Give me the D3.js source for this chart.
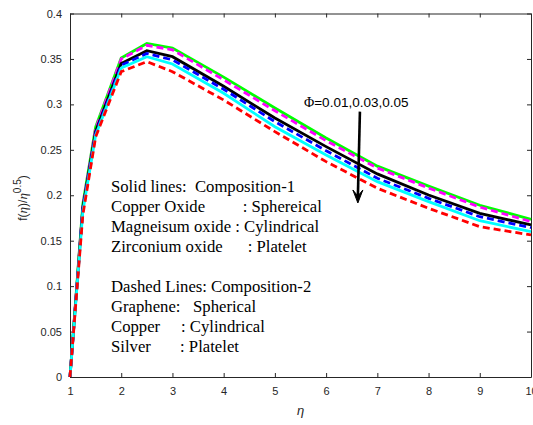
<html>
<head>
<style>
  body { margin: 0; background: #fff; }
  text { font-family: Arial, 'Liberation Sans', sans-serif; }
  .legend text { font-family: 'Times New Roman', 'Liberation Serif', serif; font-size: 16.7px; white-space: pre; }
  .axis text { font-size: 11px; fill: #262626; }
  .axis path, .axis line { stroke: #262626; }
</style>
</head>
<body>
<script src="https://cdn.jsdelivr.net/npm/d3@7"></script>
<script>

var width = 533;
var height = 425;
var margin = {top: 13.5, right: 2, bottom: 48, left: 70};

// eta values and the six curves
var eta = [1, 1.25, 1.5, 2, 2.5, 3, 4, 5, 6, 7, 8, 9, 10];
var green   = [0, 0.190, 0.275, 0.351, 0.367, 0.362, 0.330, 0.296, 0.263, 0.232, 0.210, 0.189, 0.1735];
var magenta = [0, 0.188, 0.273, 0.350, 0.365, 0.360, 0.327, 0.293, 0.260, 0.230, 0.208, 0.187, 0.171];
var black   = [0, 0.186, 0.270, 0.345, 0.359, 0.3525, 0.320, 0.285, 0.2535, 0.2235, 0.2003, 0.180, 0.1673];
var blue    = [0, 0.184, 0.268, 0.343, 0.356, 0.349, 0.3166, 0.281, 0.249, 0.2187, 0.1966, 0.1764, 0.1643];
var cyan    = [0, 0.182, 0.266, 0.340, 0.3525, 0.3444, 0.3122, 0.2754, 0.2443, 0.215, 0.193, 0.172, 0.160];
var red     = [0, 0.178, 0.264, 0.336, 0.347, 0.336, 0.3048, 0.270, 0.237, 0.2077, 0.1857, 0.1654, 0.1563];

var xTicks = [1, 2, 3, 4, 5, 6, 7, 8, 9, 10];
var yTicks = [0, 0.05, 0.1, 0.15, 0.2, 0.25, 0.3, 0.35, 0.4];

var legendLines = [
  'Solid lines:  Composition-1',
  'Copper Oxide         : Sphereical',
  'Magneisum oxide : Cylindrical',
  'Zirconium oxide      : Platelet',
  '',
  'Dashed Lines: Composition-2',
  'Graphene:   Spherical',
  'Copper     : Cylindrical',
  'Silver       : Platelet'
];

// arrow start / end in data units
var arrowFrom = [6.66, 0.292];
var arrowTo = [6.62, 0.1915];
var arrowLabel = '=0.01,0.03,0.05';

var series = [
  {values: green, color: '#00ff00', dash: null},
  {values: magenta, color: '#ff00ff', dash: '7,4'},
  {values: black, color: '#000000', dash: null},
  {values: blue, color: '#0000ff', dash: '7,4'},
  {values: cyan, color: '#00ffff', dash: null},
  {values: red, color: '#ff0000', dash: '7,4'}
];

var svg = d3.select('body').append('svg')
  .attr('width', width)
  .attr('height', height);

svg.append('rect').attr('width', width).attr('height', height).attr('fill', '#fff');

var w = 461, h = 363.5;
var x = d3.scaleLinear().domain([1, 10]).range([margin.left, margin.left + w]);
var y = d3.scaleLinear().domain([0, 0.4]).range([margin.top + h, margin.top]);

var g = svg.append('g');

// box with inward ticks on all sides
g.append('g').attr('class', 'axis')
  .attr('transform', 'translate(0,' + (margin.top + h) + ')')
  .call(d3.axisBottom(x).tickValues(xTicks).tickSizeInner(-4).tickSizeOuter(0).tickPadding(10).tickFormat(d3.format('d')));
g.append('g').attr('class', 'axis')
  .attr('transform', 'translate(' + margin.left + ',0)')
  .call(d3.axisLeft(y).tickValues(yTicks).tickSizeInner(-4).tickSizeOuter(0).tickPadding(8).tickFormat(function (d) { return d3.format('')(+d.toFixed(2)); }));
g.append('g').attr('class', 'axis')
  .attr('transform', 'translate(0,' + margin.top + ')')
  .call(d3.axisTop(x).tickValues(xTicks).tickSizeInner(-4).tickSizeOuter(0).tickFormat(''));
g.append('g').attr('class', 'axis')
  .attr('transform', 'translate(' + (margin.left + w) + ',0)')
  .call(d3.axisRight(y).tickValues(yTicks).tickSizeInner(-4).tickSizeOuter(0).tickFormat(''));

var line = d3.line()
  .x(function (d, i) { return x(eta[i]); })
  .y(function (d) { return y(d); });

svg.selectAll('path.curve')
  .data(series)
  .enter().append('path')
  .attr('class', 'curve')
  .attr('d', function (d) { return line(d.values); })
  .attr('fill', 'none')
  .attr('stroke', function (d) { return d.color; })
  .attr('stroke-width', 2.8)
  .attr('stroke-dasharray', function (d) { return d.dash; });

// legend text block
svg.append('g').attr('class', 'legend')
  .selectAll('text')
  .data(legendLines)
  .enter().append('text')
  .attr('x', 111)
  .attr('y', function (d, i) { return 191.5 + i * 20.05; })
  .attr('fill', '#000')
  .text(function (d) { return d; });

// arrow annotation
var ax1 = x(arrowFrom[0]), ay1 = y(arrowFrom[1]);
var ax2 = x(arrowTo[0]), ay2 = y(arrowTo[1]);
svg.append('line')
  .attr('x1', ax1).attr('y1', ay1)
  .attr('x2', ax2).attr('y2', ay2 - 6)
  .attr('stroke', '#000').attr('stroke-width', 2.6);
svg.append('path')
  .attr('d', 'M' + (ax2 - 5) + ',' + (ay2 - 13) + 'L' + ax2 + ',' + ay2 + 'L' + (ax2 + 5) + ',' + (ay2 - 13) + 'L' + ax2 + ',' + (ay2 - 7) + 'Z')
  .attr('fill', '#000').attr('stroke', '#000').attr('stroke-width', 1);
var al = svg.append('text')
  .attr('x', 304).attr('y', 106.7)
  .attr('font-size', 13.5)
  .attr('fill', '#000');
al.append('tspan').attr('font-family', "'Times New Roman', 'Liberation Serif', serif").attr('font-size', 14).text('\u03A6');
al.append('tspan').text(arrowLabel);

// axis labels
svg.append('text')
  .attr('x', x(5.5)).attr('y', 415)
  .attr('text-anchor', 'middle')
  .attr('font-size', 13)
  .attr('font-style', 'italic')
  .attr('fill', '#262626')
  .attr('font-family', "'Times New Roman', 'Liberation Serif', serif")
  .text('\u03B7');

var yl = svg.append('text')
  .attr('transform', 'translate(27,198) rotate(-90)')
  .attr('text-anchor', 'middle')
  .attr('font-size', 12)
  .attr('fill', '#262626');
yl.append('tspan').text('f(');
yl.append('tspan').attr('font-style', 'italic').attr('font-family', "'Times New Roman', 'Liberation Serif', serif").attr('font-size', 13).text('\u03B7');
yl.append('tspan').text(')/');
yl.append('tspan').attr('font-style', 'italic').attr('font-family', "'Times New Roman', 'Liberation Serif', serif").attr('font-size', 13).text('\u03B7');
yl.append('tspan').attr('dy', -6).attr('font-size', 10).text('0.5');
yl.append('tspan').attr('dy', 6).text(')');

</script>
</body>
</html>
